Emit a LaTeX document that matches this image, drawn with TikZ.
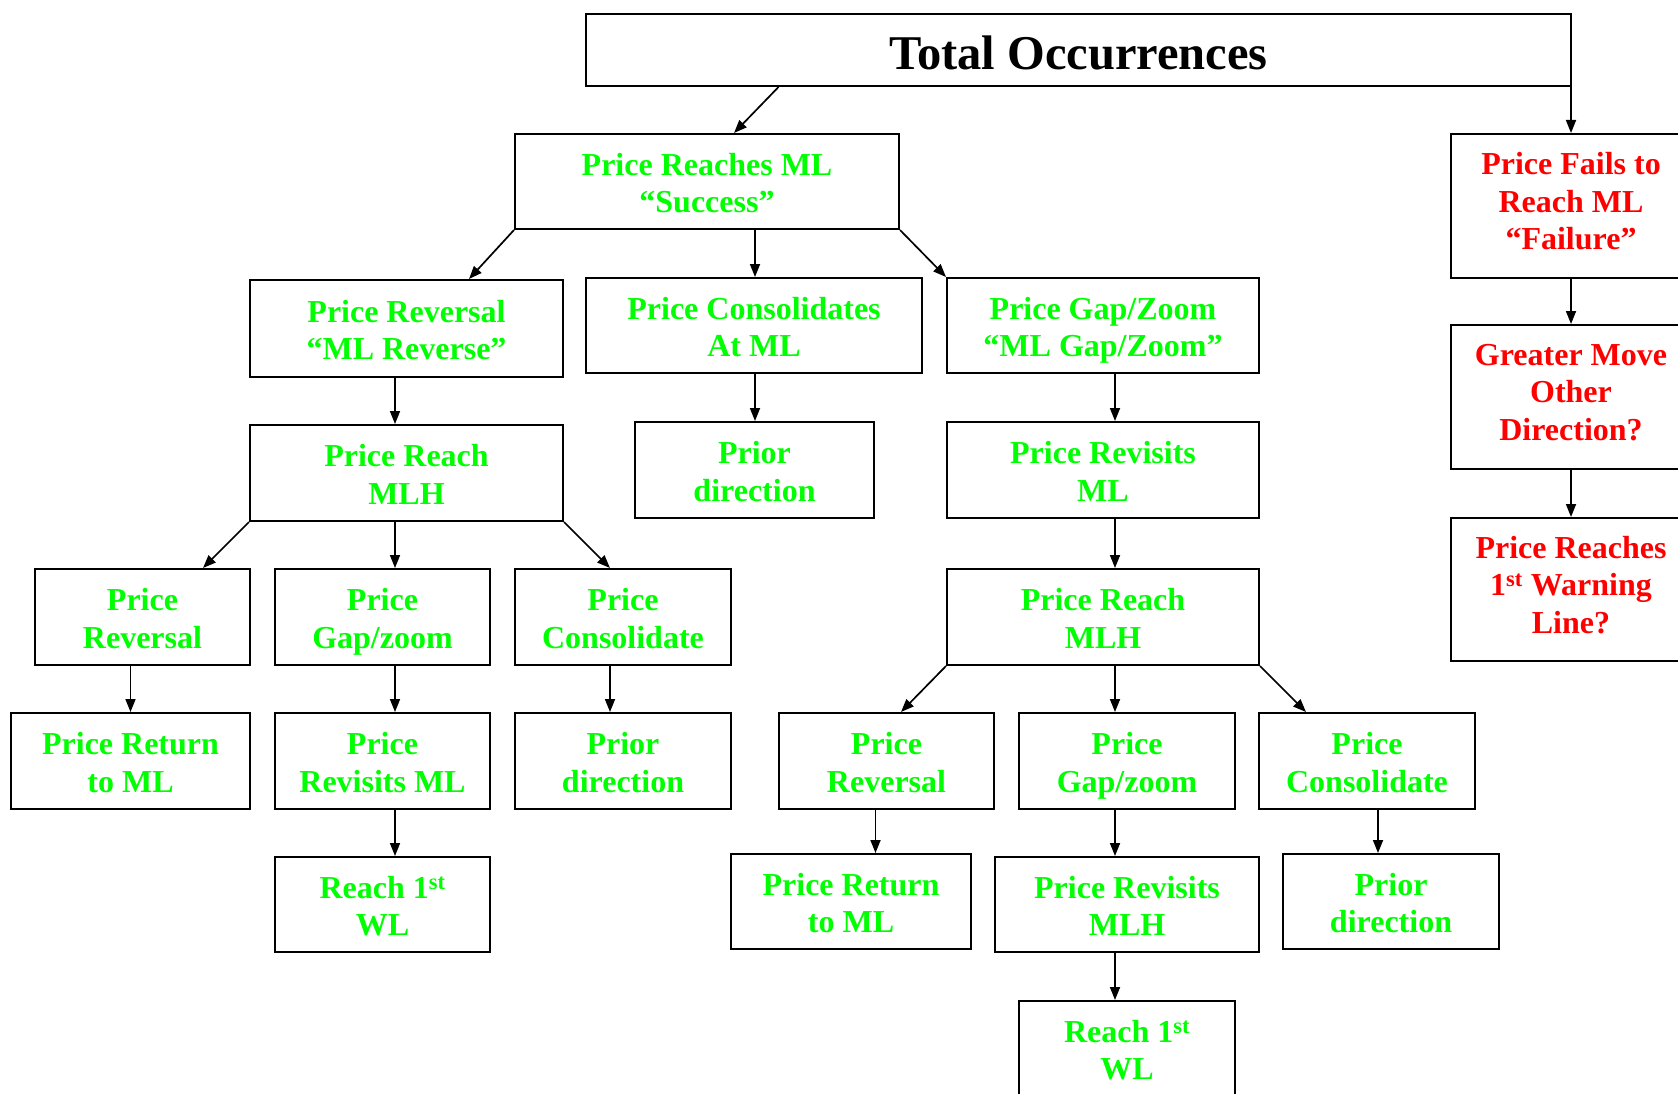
\documentclass[tikz,border=0pt]{standalone}
\usepackage{fontspec}
\setmainfont{Liberation Serif}
\usetikzlibrary{arrows.meta}
\definecolor{okgreen}{RGB}{0,255,0}
\definecolor{badred}{RGB}{255,0,0}
\newcommand\myTS{\rule{0pt}{33pt}}
\tikzset{
  box/.style={draw=black, line width=2pt, inner sep=0pt, align=center,
    font=\fontsize{32}{37.5}\selectfont\bfseries},
  gbox/.style={box, text=okgreen,
    execute at end node={\rule[-8pt]{0pt}{8pt}}},
  rbox/.style={box, text=badred,
    execute at end node={\rule[-10pt]{0pt}{10pt}}},
  arr/.style={line width=1.7pt, -{Triangle[length=13pt,width=10pt]}}
}
\begin{document}
\begin{tikzpicture}[x=1pt,y=-1pt]
\useasboundingbox (0,0) rectangle (1678,1094);
\clip (0,0) rectangle (1678,1094);
\fill[white] (0,0) rectangle (1678,1094);
% top
\node[box, minimum width=985, minimum height=72, font=\fontsize{48.5}{52}\selectfont\bfseries,
  execute at begin node={\rule{0pt}{40pt}}] (total) at (1078.5,50) {Total Occurrences};
\node[gbox, minimum width=384, minimum height=95] (prml) at (707,181.5) {\myTS Price Reaches ML\\“Success”};
% failure column
\node[rbox, minimum width=240, minimum height=144] (fails) at (1571,206) {Price Fails to\\Reach ML\\“Failure”};
\node[rbox, minimum width=240, minimum height=144] (greater) at (1571,397) {Greater Move\\Other\\Direction?};
\node[rbox, minimum width=240, minimum height=143] (reachwl) at (1571,589.5) {Price Reaches\\1\textsuperscript{st} Warning\\Line?};
% second row
\node[gbox, minimum width=313, minimum height=97] (rev) at (406.5,328.5) {\myTS Price Reversal\\“ML Reverse”};
\node[gbox, minimum width=336, minimum height=95] (cons) at (754,325.5) {\myTS Price Consolidates\\At ML};
\node[gbox, minimum width=312, minimum height=95] (gap) at (1103,325.5) {\myTS Price Gap/Zoom\\“ML Gap/Zoom”};
% third row
\node[gbox, minimum width=313, minimum height=96] (mlhL) at (406.5,473) {\myTS Price Reach\\MLH};
\node[gbox, minimum width=239, minimum height=96] (priorM) at (754.5,470) {\myTS Prior\\direction};
\node[gbox, minimum width=312, minimum height=96] (revis) at (1103,470) {\myTS Price Revisits\\ML};
\node[gbox, minimum width=312, minimum height=96] (mlhR) at (1103,617) {\myTS Price Reach\\MLH};
% left subtree
\node[gbox, minimum width=215, minimum height=96] (la) at (142.5,617) {\myTS Price\\Reversal};
\node[gbox, minimum width=215, minimum height=96] (lb) at (382.5,617) {\myTS Price\\Gap/zoom};
\node[gbox, minimum width=216, minimum height=96] (lc) at (623,617) {\myTS Price\\Consolidate};
\node[gbox, minimum width=239, minimum height=96] (la2) at (130.5,761) {\myTS Price Return\\to ML};
\node[gbox, minimum width=215, minimum height=96] (lb2) at (382.5,761) {\myTS Price\\Revisits ML};
\node[gbox, minimum width=216, minimum height=96] (lc2) at (623,761) {\myTS Prior\\direction};
\node[gbox, minimum width=215, minimum height=95] (lb3) at (382.5,904.5) {\myTS Reach 1\textsuperscript{st}\\WL};
% right subtree
\node[gbox, minimum width=215, minimum height=96] (ra) at (886.5,761) {\myTS Price\\Reversal};
\node[gbox, minimum width=216, minimum height=96] (rb) at (1127,761) {\myTS Price\\Gap/zoom};
\node[gbox, minimum width=216, minimum height=96] (rc) at (1367,761) {\myTS Price\\Consolidate};
\node[gbox, minimum width=240, minimum height=95] (ra2) at (851,901.5) {\myTS Price Return\\to ML};
\node[gbox, minimum width=264, minimum height=95] (rb2) at (1127,904.5) {\myTS Price Revisits\\MLH};
\node[gbox, minimum width=216, minimum height=95] (rc2) at (1391,901.5) {\myTS Prior\\direction};
\node[gbox, minimum width=216, minimum height=95] (rb3) at (1127,1048.5) {\myTS Reach 1\textsuperscript{st}\\WL};
% connectors
\draw[arr] ([xshift=-300]total.south) -- ([xshift=27]prml.north);
\draw[arr] (fails.north |- total.south) -- (fails.north);
\draw[arr] (fails.south) -- (greater.north);
\draw[arr] (greater.south) -- (reachwl.north);
\draw[arr] (prml.south west) -- ([xshift=62.5]rev.north);
\draw[arr] ([xshift=1]cons.north |- prml.south) -- ([xshift=1]cons.north);
\draw[arr] (prml.south east) -- (gap.north west);
\draw[arr] ([xshift=-11.5]rev.south) -- ([xshift=-11.5]rev.south |- mlhL.north);
\draw[arr] ([xshift=1]cons.south) -- ([xshift=1]cons.south |- priorM.north);
\draw[arr] ([xshift=12]gap.south) -- ([xshift=12]gap.south |- revis.north);
\draw[arr] ([xshift=12]revis.south) -- ([xshift=12]revis.south |- mlhR.north);
\draw[arr] (mlhL.south west) -- ([xshift=60.5]la.north);
\draw[arr] ([xshift=-11.5]mlhL.south) -- ([xshift=-11.5]mlhL.south |- lb.north);
\draw[arr] (mlhL.south east) -- ([xshift=-13]lc.north);
\draw[arr] (la2.north |- la.south) -- (la2.north);
\draw[arr] ([xshift=12.5]lb.south) -- ([xshift=12.5]lb.south |- lb2.north);
\draw[arr] ([xshift=-13]lc.south) -- ([xshift=-13]lc.south |- lc2.north);
\draw[arr] ([xshift=12.5]lb2.south) -- ([xshift=12.5]lb2.south |- lb3.north);
\draw[arr] (mlhR.south west) -- ([xshift=14.5]ra.north);
\draw[arr] ([xshift=12]mlhR.south) -- ([xshift=12]mlhR.south |- rb.north);
\draw[arr] (mlhR.south east) -- ([xshift=-61]rc.north);
\draw[arr] ([xshift=-11]ra.south) -- ([xshift=-11]ra.south |- ra2.north);
\draw[arr] ([xshift=-12]rb.south) -- ([xshift=-12]rb.south |- rb2.north);
\draw[arr] ([xshift=11]rc.south) -- ([xshift=11]rc.south |- rc2.north);
\draw[arr] ([xshift=-12]rb2.south) -- ([xshift=-12]rb2.south |- rb3.north);
\end{tikzpicture}
\end{document}
